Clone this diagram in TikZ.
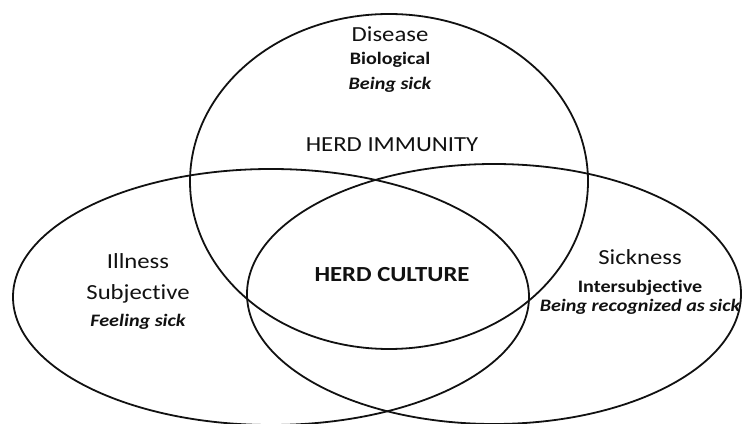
\documentclass[tikz,border=0pt]{standalone}
\usepackage{fontspec}
\setmainfont{Carlito}[FakeStretch=1.15, Ligatures=NoCommon]
\usepackage{tikz}
\definecolor{ink}{HTML}{111111}

\begin{document}
\begin{tikzpicture}[x=1pt, y=1pt, every node/.style={inner sep=0pt, anchor=base, text=ink},
  head/.style={font=\fontsize{21.5}{24}\selectfont},
  sub/.style={font=\fontsize{17.5}{20}\selectfont\bfseries},
  feel/.style={font=\fontsize{17.5}{20}\selectfont\bfseries\itshape},
  herd/.style={font=\fontsize{21.5}{24}\selectfont}]
\useasboundingbox (0,0) rectangle (743,423);
% the three circles
\draw[ink, line width=1.8pt] (389,241.5) ellipse [x radius=199, y radius=167.5];
\draw[ink, line width=1.8pt] (271,126) ellipse [x radius=258, y radius=128];
\draw[ink, line width=1.8pt] (494,129) ellipse [x radius=247, y radius=130];
% disease
\node[head] (disease) at (390,381) {Disease};
\node[sub] (bio) at (390,358) {Biological};
\node[feel] (beingsick) at (390,333) {Being sick};
% illness
\node[head] (illness) at (138,154) {Illness};
\node[head] (subj) at (138,124) {Subjective};
\node[feel] (feeling) at (138,97) {Feeling sick};
% sickness
\node[head] (sickness) at (640,158) {Sickness};
\node[sub] (intersubj) at (640,131) {Intersubjective};
\node[feel] (recog) at (640,112) {Being recognized as sick};
% overlaps
\node[herd] (immunity) at (392,271) {HERD IMMUNITY};
\node[herd, font=\fontsize{21.5}{24}\selectfont\bfseries] (culture) at (392,142) {HERD CULTURE};
\end{tikzpicture}
\end{document}
